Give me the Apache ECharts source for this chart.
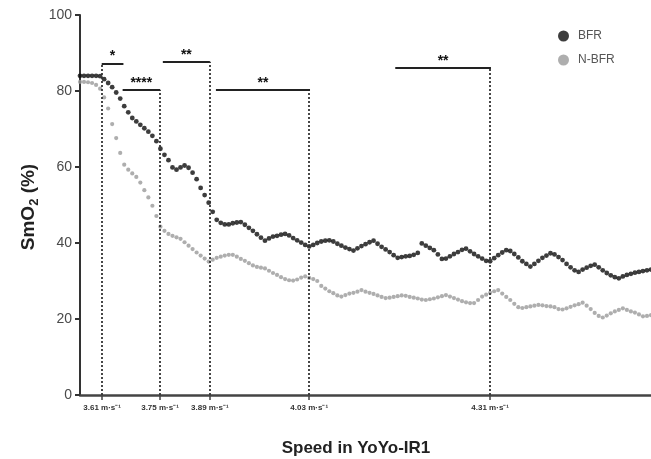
<!DOCTYPE html>
<html><head><meta charset="utf-8">
<script src="https://cdn.jsdelivr.net/npm/echarts@6/dist/echarts.min.js"></script>
<style>html,body{margin:0;padding:0;background:#fff}#c{width:651px;height:459px}</style>
</head><body><div id="c"></div>
<script>
// SmO2 (%) per sample, BFR condition
const bfr = [84,84,84,84,84,83.9,83.1,82.1,81,79.6,
78,76,74.4,72.9,72,71.1,70.2,69.3,68.2,66.8,
64.8,63.2,61.8,59.9,59.3,59.9,60.4,59.8,58.5,56.8,
54.5,52.6,50.6,48.2,46.1,45.3,44.9,44.9,45.2,45.4,
45.5,44.8,44,43.2,42.3,41.4,40.6,41.2,41.7,41.9,
42.2,42.4,42,41.3,40.7,40.1,39.5,39.1,39.5,40,
40.4,40.6,40.7,40.4,39.8,39.3,38.8,38.4,38,38.6,
39.2,39.7,40.2,40.6,39.8,39,38.3,37.6,36.8,36.1,
36.3,36.5,36.6,36.9,37.4,39.9,39.3,38.7,38.1,37,
35.8,35.9,36.5,37.1,37.6,38.2,38.5,37.8,37.1,36.5,
35.9,35.3,35.2,36,36.8,37.5,38.1,37.9,37.1,36.2,
35.2,34.5,33.8,34.5,35.3,36.1,36.7,37.3,37,36.3,
35.5,34.5,33.6,32.8,32.4,33,33.5,34,34.3,33.6,
32.8,32.1,31.5,31,30.7,31.2,31.6,31.9,32.2,32.4,
32.6,32.8,33];
// SmO2 (%) per sample, N-BFR condition
const nbfr = [82.4,82.4,82.3,82.1,81.6,80.6,78.3,75.4,71.3,67.6,
63.7,60.6,59.3,58.3,57.4,55.9,53.9,52,49.8,47.1,
44.3,43.2,42.4,41.9,41.5,41.1,40.2,39.3,38.4,37.5,
36.7,35.9,35.1,35.6,36.1,36.4,36.7,36.9,36.9,36.4,
35.8,35.3,34.7,34.1,33.7,33.5,33.3,32.7,32.1,31.6,
31,30.5,30.2,30.1,30.4,30.9,31.2,30.8,30.5,30,
28.7,28,27.3,26.8,26.2,25.9,26.3,26.7,26.9,27.2,
27.6,27.2,26.9,26.6,26.2,25.8,25.5,25.6,25.8,26,
26.2,26.1,25.8,25.6,25.4,25.1,25,25.2,25.4,25.7,
26,26.3,25.9,25.5,25.1,24.7,24.4,24.2,24.2,25,
25.9,26.4,26.9,27.3,27.6,26.7,25.8,25,24,23.1,
22.9,23.1,23.3,23.5,23.7,23.6,23.4,23.3,23.1,22.6,
22.5,22.8,23.2,23.6,23.9,24.3,23.5,22.6,21.6,20.8,
20.4,20.9,21.5,22,22.4,22.8,22.4,22,21.7,21.2,
20.7,20.8,21];
const yTicks = [0, 20, 40, 60, 80, 100];
const speedPos = [5.5, 19.9, 32.3, 57, 102];
const speedLabels = ['3.61 m·s⁻¹', '3.75 m·s⁻¹', '3.89 m·s⁻¹', '4.03 m·s⁻¹', '4.31 m·s⁻¹'];
const speedLineTop = [87.3, 80.3, 87.7, 80.3, 86];
const bracketFrom = [5.4, 10.6, 20.6, 33.8, 78.4];
const bracketTo = [10.8, 19.9, 32.3, 57.2, 102.2];
const bracketLevel = [87.3, 80.3, 87.7, 80.3, 86];
const bracketStars = ['*', '****', '**', '**', '**'];

const chart = echarts.init(document.getElementById('c'), null, {renderer: 'canvas'});
const FF = '"Liberation Sans", Arial, sans-serif';

const markData = [];
speedPos.forEach((x, i) => {
  markData.push([
    {coord: [x, 0], lineStyle: {type: [2, 2], width: 1.8, color: '#333'}},
    {coord: [x, speedLineTop[i]]}
  ]);
});
bracketFrom.forEach((x, i) => {
  markData.push([
    {coord: [x, bracketLevel[i]], lineStyle: {type: 'solid', width: 2, color: '#222'},
     label: {show: true, formatter: bracketStars[i], position: 'insideMiddleTop', distance: 0,
             fontSize: 14, fontWeight: 'bold', color: '#111', fontFamily: FF}},
    {coord: [bracketTo[i], bracketLevel[i]]}
  ]);
});

chart.setOption({
  animation: false,
  grid: {left: 80, right: 0, top: 15, bottom: 64, containLabel: false},
  legend: {
    data: ['BFR', 'N-BFR'], orient: 'vertical', left: 553, top: 25,
    itemWidth: 11, itemHeight: 11, itemGap: 12, icon: 'circle',
    textStyle: {fontSize: 12, color: '#555', fontFamily: FF, padding: [0, 0, 0, 4]}
  },
  xAxis: {
    type: 'value', min: 0, max: 142,
    splitLine: {show: false},
    axisLine: {show: true, lineStyle: {color: '#444', width: 2.5}},
    axisTick: {show: true, customValues: speedPos, length: 5, lineStyle: {color: '#444', width: 1.5}},
    axisLabel: {
      show: true, customValues: speedPos, margin: 9,
      formatter: v => speedLabels[speedPos.indexOf(v)] || '',
      fontSize: 8, fontWeight: 'bold', color: '#333', fontFamily: FF
    }
  },
  yAxis: {
    type: 'value', min: yTicks[0], max: yTicks[yTicks.length - 1], interval: 20,
    splitLine: {show: false},
    axisLine: {show: true, lineStyle: {color: '#333', width: 2}},
    axisTick: {show: true, length: 5, lineStyle: {color: '#333', width: 2}},
    axisLabel: {fontSize: 14, color: '#4a4a4a', margin: 8, fontFamily: FF}
  },
  graphic: [
    {type: 'text', x: 29, y: 207, rotation: Math.PI / 2,
     style: {text: '{a|SmO}{b|2}{a| (%)}', align: 'center', verticalAlign: 'middle',
       rich: {
         a: {fontSize: 19, fontWeight: 'bold', fill: '#222', fontFamily: FF, lineHeight: 24},
         b: {fontSize: 13, fontWeight: 'bold', fill: '#222', fontFamily: FF, verticalAlign: 'bottom', lineHeight: 16}
       }}},
    {type: 'text', x: 356, y: 448,
     style: {text: 'Speed in YoYo-IR1', font: 'bold 17px "Liberation Sans", Arial, sans-serif',
       align: 'center', verticalAlign: 'middle', fill: '#222'}}
  ],
  series: [
    {
      name: 'N-BFR', type: 'scatter', symbol: 'circle', symbolSize: 4.2,
      itemStyle: {color: '#9a9a9a'},
      data: nbfr.map((v, i) => [i, v]),
      markLine: {silent: true, symbol: ['none', 'none'], label: {show: false}, data: markData, animation: false}
    },
    {
      name: 'BFR', type: 'scatter', symbol: 'circle', symbolSize: 4.8,
      itemStyle: {color: '#0d0d0d'},
      data: bfr.map((v, i) => [i, v])
    }
  ]
});
</script></body></html>
